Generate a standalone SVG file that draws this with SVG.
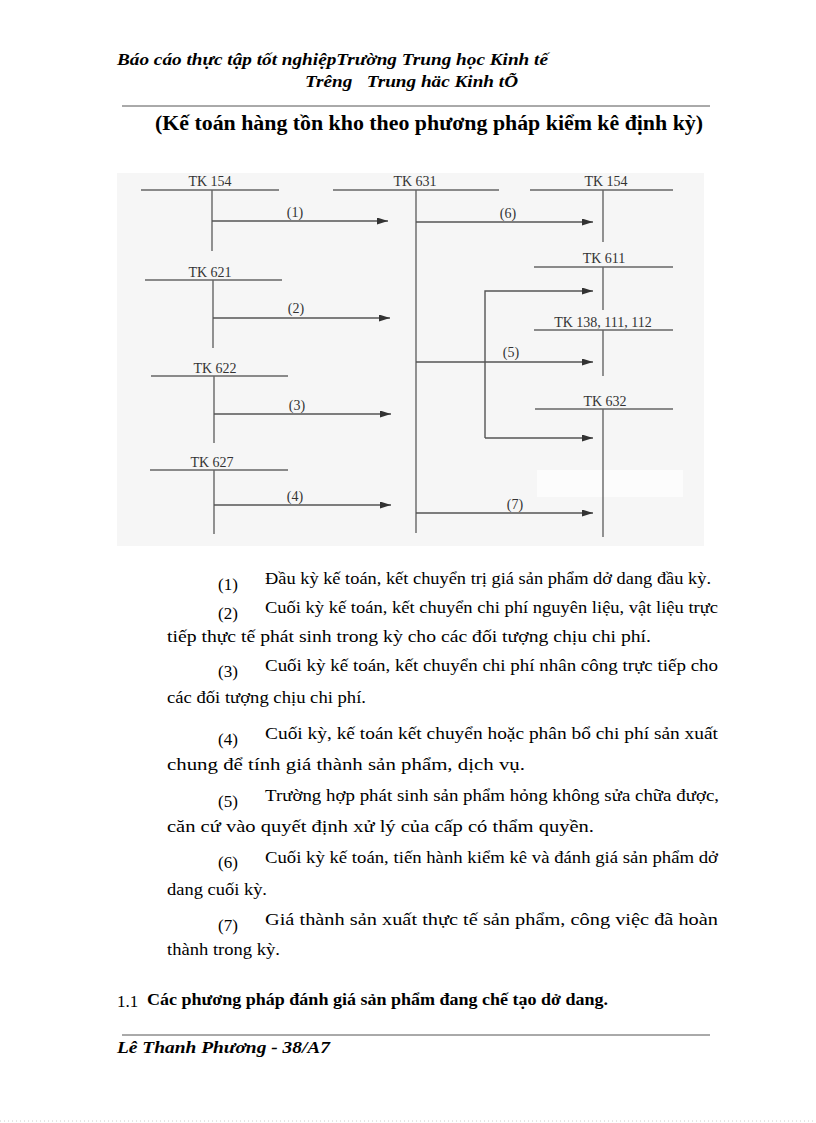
<svg xmlns="http://www.w3.org/2000/svg" width="816" height="1123" viewBox="0 0 816 1123">
<defs>
<style>
.hdr{font-family:"Liberation Serif","Times New Roman",serif;font-weight:bold;font-style:italic;font-size:17px;fill:#000}
.ttl{font-family:"Liberation Serif","Times New Roman",serif;font-weight:bold;font-size:20px;fill:#000}
.body{font-family:"Liberation Serif","Times New Roman",serif;font-size:17px;fill:#000}
.bold{font-weight:bold}
.rule{stroke:#555;stroke-width:1}
.acc line{stroke:#666;stroke-width:1.4}
.lbl{font-family:"Liberation Serif","Times New Roman",serif;font-size:14px;fill:#333;text-anchor:middle}
.conn{stroke:#555;stroke-width:1.4;fill:none}
</style>
<marker id="ah" markerUnits="userSpaceOnUse" markerWidth="11" markerHeight="7" refX="11" refY="3.5" orient="auto">
<path d="M0,0 L11,3.5 L0,7 z" fill="#333"/>
</marker>
</defs>
<rect width="816" height="1123" fill="#fff"/>

<!-- header -->
<text class="hdr" x="117" y="65" textLength="431" lengthAdjust="spacingAndGlyphs">Báo cáo thực tập tốt nghiệpTrường Trung học Kinh tế</text>
<text class="hdr" x="305" y="87" textLength="213" lengthAdjust="spacingAndGlyphs" xml:space="preserve">Trêng   Trung häc Kinh tÕ</text>
<line class="rule" x1="122" y1="106" x2="710" y2="106"/>
<text class="ttl" x="155" y="130" textLength="548" lengthAdjust="spacingAndGlyphs">(Kế toán hàng tồn kho theo phương pháp kiểm kê định kỳ)</text>

<!-- diagram background -->
<rect x="117" y="173" width="587" height="373" fill="#f6f6f6"/>
<rect x="537" y="470" width="146" height="27" fill="#fcfcfc"/>

<g id="tk154a" class="acc">
<line x1="141" y1="190" x2="279" y2="190"/><line x1="212" y1="190" x2="212" y2="251"/>
<text class="lbl" x="210" y="186">TK 154</text>
</g>
<g id="tk621" class="acc">
<line x1="145" y1="280" x2="282" y2="280"/><line x1="213" y1="280" x2="213" y2="348"/>
<text class="lbl" x="210" y="277">TK 621</text>
</g>
<g id="tk622" class="acc">
<line x1="151" y1="376" x2="288" y2="376"/><line x1="214" y1="376" x2="214" y2="443"/>
<text class="lbl" x="215" y="373">TK 622</text>
</g>
<g id="tk627" class="acc">
<line x1="150" y1="470" x2="288" y2="470"/><line x1="214" y1="470" x2="214" y2="534"/>
<text class="lbl" x="212" y="467">TK 627</text>
</g>
<g id="tk631" class="acc">
<line x1="333" y1="190" x2="499" y2="190"/><line x1="416" y1="190" x2="416" y2="533"/>
<text class="lbl" x="415" y="186">TK 631</text>
</g>
<g id="tk154b" class="acc">
<line x1="530" y1="190" x2="673" y2="190"/><line x1="603" y1="190" x2="603" y2="242"/>
<text class="lbl" x="606" y="186">TK 154</text>
</g>
<g id="tk611" class="acc">
<line x1="534" y1="267" x2="673" y2="267"/><line x1="603" y1="267" x2="603" y2="310"/>
<text class="lbl" x="604" y="263">TK 611</text>
</g>
<g id="tk138" class="acc">
<line x1="534" y1="330" x2="673" y2="330"/><line x1="603" y1="330" x2="603" y2="376"/>
<text class="lbl" x="603" y="327">TK 138, 111, 112</text>
</g>
<g id="tk632" class="acc">
<line x1="535" y1="409" x2="673" y2="409"/><line x1="603" y1="409" x2="603" y2="537"/>
<text class="lbl" x="605" y="406">TK 632</text>
</g>

<g id="connectors">
<path class="conn" d="M212,221 H388" marker-end="url(#ah)"/>
<text class="lbl" x="295" y="217">(1)</text>
<path class="conn" d="M213,318 H390" marker-end="url(#ah)"/>
<text class="lbl" x="296" y="313">(2)</text>
<path class="conn" d="M214,414 H391" marker-end="url(#ah)"/>
<text class="lbl" x="297" y="410">(3)</text>
<path class="conn" d="M214,505 H391" marker-end="url(#ah)"/>
<text class="lbl" x="295" y="501">(4)</text>
<path class="conn" d="M416,222 H593" marker-end="url(#ah)"/>
<text class="lbl" x="508" y="218">(6)</text>
<path class="conn" d="M416,362 H593" marker-end="url(#ah)"/>
<text class="lbl" x="511" y="357">(5)</text>
<path class="conn" d="M485,438 V291 H593" marker-end="url(#ah)"/>
<path class="conn" d="M485,438 H593" marker-end="url(#ah)"/>
<path class="conn" d="M416,513 H593" marker-end="url(#ah)"/>
<text class="lbl" x="515" y="509">(7)</text>
</g>

<!-- explanations -->
<g class="body">
<text x="218" y="590">(1)</text>
<text x="265" y="584" textLength="446" lengthAdjust="spacingAndGlyphs">Đầu kỳ kế toán, kết chuyển trị giá  sản phẩm dở dang đầu kỳ.</text>
<text x="218" y="619">(2)</text>
<text x="265" y="613" textLength="453" lengthAdjust="spacingAndGlyphs">Cuối kỳ kế toán, kết chuyển chi phí nguyên liệu, vật liệu trực</text>
<text x="167" y="642" textLength="484" lengthAdjust="spacingAndGlyphs">tiếp thực tế phát sinh trong kỳ cho các đối tượng chịu chi phí.</text>
<text x="218" y="677">(3)</text>
<text x="265" y="671" textLength="453" lengthAdjust="spacingAndGlyphs">Cuối kỳ kế toán, kết chuyển chi phí nhân công trực tiếp cho</text>
<text x="167" y="703" textLength="199" lengthAdjust="spacingAndGlyphs">các đối tượng chịu chi phí.</text>
<text x="218" y="745">(4)</text>
<text x="265" y="739" textLength="453" lengthAdjust="spacingAndGlyphs">Cuối kỳ, kế toán kết chuyển hoặc phân bổ chi phí sản xuất</text>
<text x="167" y="770" textLength="358" lengthAdjust="spacingAndGlyphs">chung để tính giá thành sản phẩm, dịch vụ.</text>
<text x="218" y="807">(5)</text>
<text x="265" y="801" textLength="454" lengthAdjust="spacingAndGlyphs">Trường hợp phát sinh sản phẩm hỏng không sửa chữa được,</text>
<text x="167" y="832" textLength="427" lengthAdjust="spacingAndGlyphs">căn cứ vào quyết định xử lý của cấp có thẩm quyền.</text>
<text x="218" y="868">(6)</text>
<text x="265" y="863" textLength="453" lengthAdjust="spacingAndGlyphs">Cuối kỳ kế toán, tiến hành kiểm kê và đánh giá sản phẩm dở</text>
<text x="167" y="895" textLength="100" lengthAdjust="spacingAndGlyphs">dang cuối kỳ.</text>
<text x="218" y="931">(7)</text>
<text x="265" y="925" textLength="453" lengthAdjust="spacingAndGlyphs">Giá thành sản xuất thực tế sản phẩm, công việc đã hoàn</text>
<text x="167" y="955" textLength="113" lengthAdjust="spacingAndGlyphs">thành trong kỳ.</text>
</g>

<!-- section heading -->
<text class="body" x="117" y="1007" font-size="17">1.1</text>
<text class="body bold" x="147" y="1005" font-size="17" textLength="461" lengthAdjust="spacingAndGlyphs">Các phương pháp đánh giá sản phẩm đang chế tạo dở dang.</text>

<!-- footer -->
<line class="rule" x1="122" y1="1035" x2="710" y2="1035"/>
<text class="hdr" x="117" y="1053" textLength="213" lengthAdjust="spacingAndGlyphs">Lê Thanh Phương - 38/A7</text>
<line x1="0" y1="1121" x2="816" y2="1121" stroke="#ccc" stroke-width="1" stroke-dasharray="1,3"/>
</svg>
